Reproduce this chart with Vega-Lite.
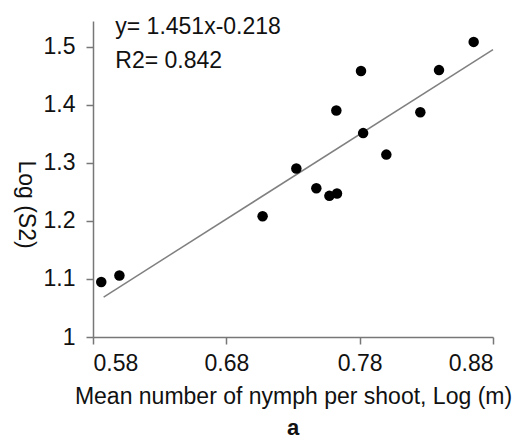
{
  "$schema": "https://vega.github.io/schema/vega-lite/v6.json",
  "width": 400,
  "height": 316,
  "autosize": {"type": "none"},
  "padding": {"left": 93, "top": 21, "right": 27, "bottom": 105},
  "background": "white",
  "config": {
    "view": {"stroke": null},
    "font": "Liberation Sans",
    "axis": {
      "grid": false,
      "domainColor": "#777777",
      "domainWidth": 1.5,
      "tickColor": "#777777",
      "tickWidth": 1.5,
      "tickSize": 7,
      "labelFont": "Liberation Sans",
      "labelFontSize": 23,
      "labelColor": "#111111",
      "titleFont": "Liberation Sans",
      "titleFontSize": 23,
      "titleFontWeight": "normal",
      "titleColor": "#111111"
    }
  },
  "title": {
    "text": "a",
    "orient": "bottom",
    "anchor": "middle",
    "font": "Liberation Sans",
    "fontSize": 22,
    "fontWeight": "bold",
    "color": "#111111",
    "offset": 10
  },
  "datasets": {
    "points": [
      {"m": 0.5862, "s2": 1.0947},
      {"m": 0.5998, "s2": 1.106},
      {"m": 0.7072, "s2": 1.208},
      {"m": 0.7325, "s2": 1.29},
      {"m": 0.7475, "s2": 1.256},
      {"m": 0.7573, "s2": 1.243},
      {"m": 0.763, "s2": 1.247},
      {"m": 0.7625, "s2": 1.39},
      {"m": 0.781, "s2": 1.458},
      {"m": 0.7826, "s2": 1.351},
      {"m": 0.8, "s2": 1.314},
      {"m": 0.8255, "s2": 1.387},
      {"m": 0.8395, "s2": 1.4595},
      {"m": 0.8655, "s2": 1.508}
    ],
    "fit": [
      {"m": 0.588, "s2": 1.0688},
      {"m": 0.88, "s2": 1.4947}
    ],
    "notes": [
      {"m": 0.5967, "s2": 1.5215, "label": "y= 1.451x-0.218"},
      {"m": 0.5967, "s2": 1.4625, "label": "R2= 0.842"}
    ]
  },
  "layer": [
    {
      "data": {"name": "fit"},
      "mark": {"type": "line", "color": "#808080", "strokeWidth": 1.5},
      "encoding": {
        "x": {
          "field": "m",
          "type": "quantitative",
          "scale": {"domain": [0.58, 0.88], "nice": false, "zero": false},
          "axis": {
            "values": [0.58, 0.68, 0.78, 0.88],
            "format": ".2f",
            "labelPadding": 8,
            "titlePadding": 10,
            "title": "Mean number of nymph per shoot, Log (m)"
          }
        },
        "y": {
          "field": "s2",
          "type": "quantitative",
          "scale": {"domain": [1, 1.544], "nice": false, "zero": false},
          "axis": {
            "values": [1, 1.1, 1.2, 1.3, 1.4, 1.5],
            "format": "~g",
            "labelPadding": 11,
            "title": "Log (S2)",
            "titleAngle": 90,
            "titleX": -68,
            "titleY": 183,
            "titleAlign": "center",
            "titleBaseline": "middle"
          }
        }
      }
    },
    {
      "data": {"name": "points"},
      "mark": {"type": "circle", "color": "#000000", "opacity": 1, "size": 110},
      "encoding": {
        "x": {"field": "m", "type": "quantitative"},
        "y": {"field": "s2", "type": "quantitative"}
      }
    },
    {
      "data": {"name": "notes"},
      "mark": {"type": "text", "align": "left", "baseline": "alphabetic", "font": "Liberation Sans", "fontSize": 23, "color": "#111111"},
      "encoding": {
        "x": {"field": "m", "type": "quantitative"},
        "y": {"field": "s2", "type": "quantitative"},
        "text": {"field": "label"}
      }
    }
  ]
}
